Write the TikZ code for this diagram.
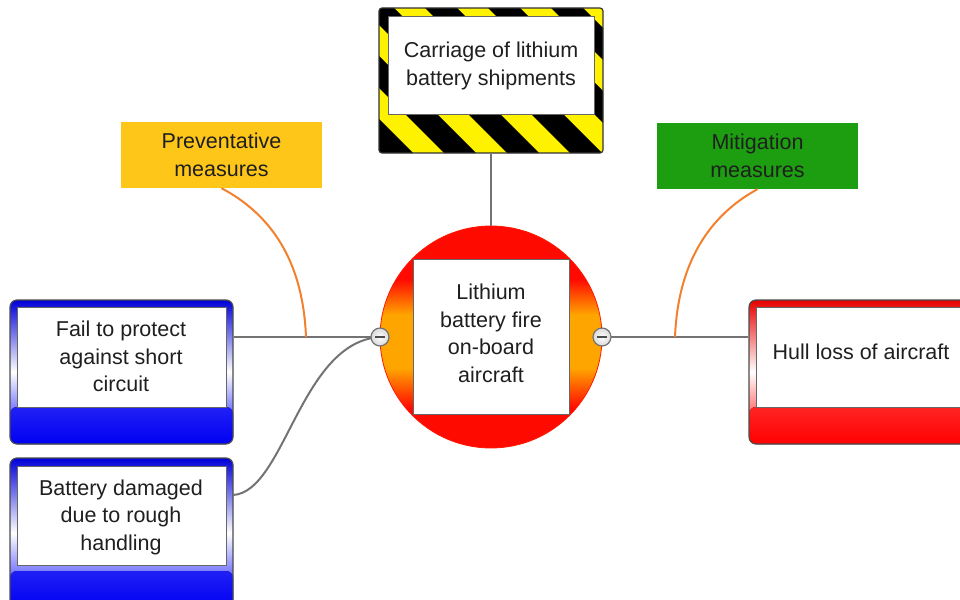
\documentclass[tikz,border=0pt]{standalone}
\usepackage{fontspec}
\setmainfont{Liberation Sans}
\definecolor{ocol}{RGB}{242,128,44}
\definecolor{prevcol}{RGB}{255,198,26}
\definecolor{miticol}{RGB}{28,158,16}
\definecolor{firered}{RGB}{255,10,0}
\definecolor{fireorange}{RGB}{255,165,0}
\pgfdeclareverticalshading{fireshade}{100bp}{color(0bp)=(firered); color(34bp)=(firered); color(43bp)=(fireorange); color(55bp)=(fireorange); color(63bp)=(firered); color(100bp)=(firered)}
\begin{document}
\begin{tikzpicture}[x=1pt,y=-1pt,
  txt/.style={font=\fontsize{21.5}{27.5}\selectfont, text=black!88, align=center},
  innerbox/.style={draw=black!60, line width=1pt, fill=white, inner sep=0pt},
  conn/.style={draw=black!55, line width=2pt},
  ocurve/.style={draw=ocol, line width=2pt},
  bluebox/.style={draw=black!70, line width=1.2pt, rounded corners=7pt,
    top color=blue!85!black, bottom color=blue, middle color=white,
    path picture={\fill[top color=blue!50!white, bottom color=blue!95!black]
      ([yshift=37pt]path picture bounding box.south west) rectangle (path picture bounding box.south east);}},
  redbox/.style={draw=black!70, line width=1.2pt, rounded corners=7pt,
    top color=red!90!black, bottom color=red, middle color=white,
    path picture={\fill[top color=red!45!white, bottom color=red]
      ([yshift=37pt]path picture bounding box.south west) rectangle (path picture bounding box.south east);}},
  btn/.style={circle, draw=black!55, line width=1.2pt, minimum size=18pt, inner sep=0pt,
    inner color=white, outer color=black!15,
    path picture={\draw[line width=1.6pt, black!70] ([xshift=-5pt]path picture bounding box.center) -- ([xshift=5pt]path picture bounding box.center);}},
  label/.style={txt, inner sep=0pt, minimum width=201pt, minimum height=66pt}
]
\useasboundingbox (0,0) rectangle (960,599);

% hazard box: stripes
\begin{scope}
  \clip[rounded corners=3pt] (379,8) rectangle (603,153);
  \fill[yellow] (379,8) rectangle (603,153);
  \foreach \a in {173,236,...,614} \fill[black] (\a,8) -- ++(32,0) -- ++(150,150) -- ++(-32,0) -- cycle;
\end{scope}
\node[draw=black!80, line width=1.2pt, rounded corners=3pt, minimum width=224pt, minimum height=145pt, inner sep=0pt]
  (haz) at (491,80.5) {};
\node[innerbox, minimum width=206pt, minimum height=98pt] (hazin) at (491,66) {};
\node[txt] (hazt) at (491,66) {Carriage of lithium\\battery shipments};

% central circle
\node[circle, draw=red!80!orange, line width=0.8pt, minimum size=222pt, inner sep=0pt,
  shading=fireshade] (core) at (491,337) {};
\node[innerbox, minimum width=156pt, minimum height=155pt] (corebox) at (491,336.5) {};
\node[txt] (coret) at (491,333.5) {Lithium\\battery fire\\on-board\\aircraft};

% left boxes
\node[bluebox, minimum width=223pt, minimum height=144pt, inner sep=0pt] (f1o) at (121.5,372) {};
\node[innerbox, minimum width=209pt, minimum height=100pt] (f1in) at (121.5,357) {};
\node[txt] (f1) at (121,356.5) {Fail to protect\\against short\\circuit};

\node[bluebox, minimum width=223pt, minimum height=150pt, inner sep=0pt] (f2o) at (121.5,533) {};
\node[innerbox, minimum width=209pt, minimum height=99pt] (f2in) at (121.5,515.5) {};
\node[txt] (f2) at (121,517) {Battery damaged\\due to rough\\handling};

% right box
\node[redbox, minimum width=226pt, minimum height=144pt, inner sep=0pt] (hullo) at (862,372) {};
\node[innerbox, minimum width=212pt, minimum height=100pt] (hullin) at (862,357) {};
\node[txt] (hull) at (861,352) {Hull loss of aircraft};

% labels
\node[label, fill=prevcol] (prev) at (221.5,155) {Preventative\\measures};
\node[label, fill=miticol] (miti) at (757.5,156) {Mitigation\\measures};

% connectors
\coordinate (f2a) at (233,495);
\coordinate (pj) at (306,337);
\coordinate (mj) at (675,337);
\coordinate (bl0) at (380,337);
\coordinate (br0) at (602,337);
\draw[conn] (haz.south) -- (core.north);
\draw[conn] (f1o.east |- bl0) -- (bl0);
\draw[conn] (f2a) .. controls (285,492) and (300,342) .. (bl0);
\draw[conn] (br0) -- (hullo.west |- br0);
\draw[ocurve] (prev.south) .. controls (272,215) and (303,262) .. (pj);
\draw[ocurve] (miti.south) .. controls (710,215) and (678,262) .. (mj);

% buttons
\node[btn] (bl) at (bl0) {};
\node[btn] (br) at (br0) {};
\end{tikzpicture}
\end{document}
